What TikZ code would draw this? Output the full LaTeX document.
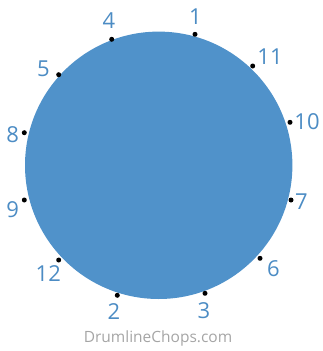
\documentclass[tikz,border=0pt]{standalone}
\usepackage{fontspec}
\setmainfont{Open Sans}
\usetikzlibrary{positioning}
\definecolor{discblue}{RGB}{80,146,202}
\definecolor{numblue}{RGB}{76,140,196}
\definecolor{sitegray}{RGB}{165,165,165}

\begin{document}
\begin{tikzpicture}[
  x=1pt, y=-1pt,
  disc/.style={circle, fill=discblue, inner sep=0pt, minimum size=267.4pt},
  dot/.style={circle, fill=black, inner sep=0pt, minimum size=5pt},
  num/.style={text=numblue, font=\fontsize{22}{22}\selectfont, inner sep=0pt},
  site/.style={text=sitegray, font=\fontsize{15.5}{16}\selectfont, inner sep=0pt},
]
\useasboundingbox (0,0) rectangle (322,351);
\node[disc] (pad) at (158.7,165.3) {};

% beat points round the pad
\node[dot] (d1) at (195,34.3) {};
\node[dot] (d2) at (117.3,295.3) {};
\node[dot] (d3) at (205,293.3) {};
\node[dot] (d4) at (111.7,39.3) {};
\node[dot] (d5) at (58.7,74.7) {};
\node[dot] (d6) at (260,258.3) {};
\node[dot] (d7) at (291,200) {};
\node[dot] (d8) at (24.3,132.7) {};
\node[dot] (d9) at (24.3,200) {};
\node[dot] (d10) at (290,122.3) {};
\node[dot] (d11) at (252.7,66) {};
\node[dot] (d12) at (58.7,260) {};

% numbers
\node[num] (n1) at (195.5,16.5) {1};
\node[num] (n2) at (114,311.5) {2};
\node[num] (n3) at (204,311) {3};
\node[num] (n4) at (109,21) {4};
\node[num] (n5) at (43.5,68.5) {5};
\node[num] (n6) at (273.3,268.3) {6};
\node[num] (n7) at (301.5,201.5) {7};
\node[num] (n8) at (12.7,134.5) {8};
\node[num] (n9) at (12.7,209.5) {9};
\node[num] (n10) at (307,121.5) {10};
\node[num] (n11) at (270,56.5) {11};
\node[num] (n12) at (48.3,274) {12};

\node[site] (url) at (158,338) {DrumlineChops.com};
\end{tikzpicture}
\end{document}
